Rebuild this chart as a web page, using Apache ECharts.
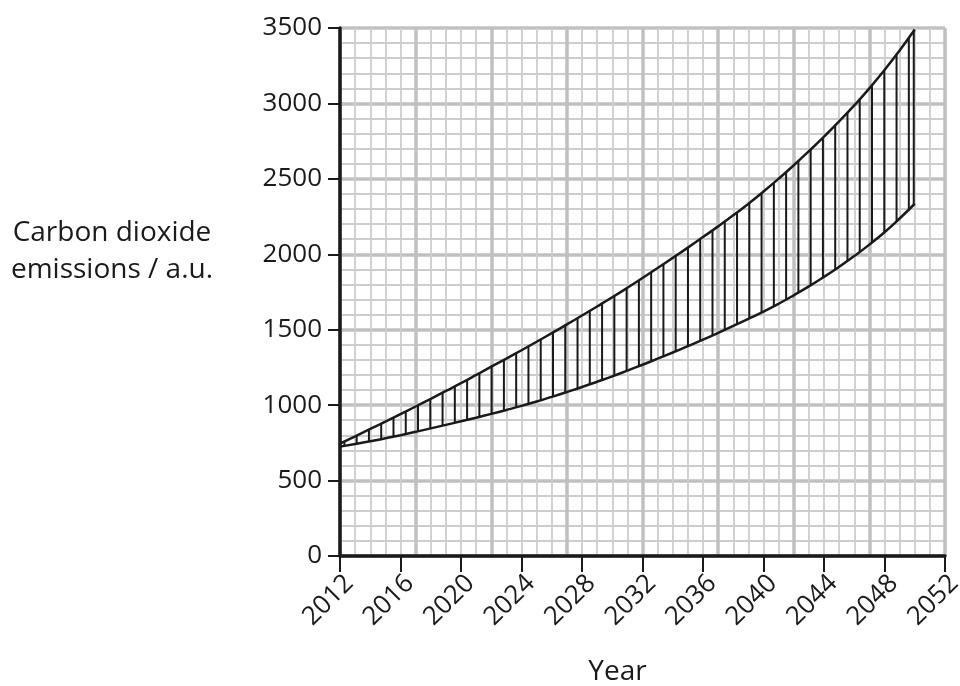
<!DOCTYPE html>
<html>
<head>
<meta charset="utf-8">
<script src="https://cdn.jsdelivr.net/npm/echarts@6/dist/echarts.min.js"></script>
<style>
  html, body { margin: 0; padding: 0; background: #ffffff; }
  #chart { width: 960px; height: 686px; }
</style>
</head>
<body>
<div id="chart"></div>
<script>
// Projected emissions: upper and lower bounds, one value per year
const years = [2012, 2013, 2014, 2015, 2016, 2017, 2018, 2019, 2020, 2021,
               2022, 2023, 2024, 2025, 2026, 2027, 2028, 2029, 2030, 2031,
               2032, 2033, 2034, 2035, 2036, 2037, 2038, 2039, 2040, 2041,
               2042, 2043, 2044, 2045, 2046, 2047, 2048, 2049, 2050];
const upperBound = [745, 793, 842, 891, 941, 991, 1042, 1094, 1146, 1200,
                    1255, 1309, 1364, 1420, 1477, 1535, 1594, 1654, 1715, 1778,
                    1843, 1909, 1976, 2044, 2114, 2185, 2258, 2335, 2416, 2501,
                    2590, 2683, 2780, 2881, 2987, 3100, 3221, 3351, 3490];
const lowerBound = [725, 742, 760, 780, 801, 823, 846, 869, 893, 917,
                    942, 968, 995, 1024, 1055, 1087, 1120, 1155, 1191, 1229,
                    1268, 1308, 1349, 1391, 1434, 1479, 1525, 1572, 1620, 1672,
                    1728, 1787, 1850, 1917, 1988, 2064, 2146, 2237, 2335];

// Axis ranges and tick steps
const xMin = 2012, xMax = 2052, xStep = 4;
const yMin = 0, yMax = 3500, yStep = 500;

const FONT = '"Open Sans", "Noto Sans", sans-serif';
const INK = '#1a1a1a';
const HATCH_GAP = 12.27;    // px between hatch strokes
const HATCH_OFFSET = 4.4;   // px from the plot's left edge to the first stroke

const upperData = years.map((y, i) => [y, upperBound[i]]);
const lowerData = years.map((y, i) => [y, lowerBound[i]]);
// one band segment per pair of consecutive years
const bandSegments = years.slice(0, -1).map((y, i) => [
  y, upperBound[i], lowerBound[i], years[i + 1], upperBound[i + 1], lowerBound[i + 1]
]);

function renderHatch(params, api) {
  const top0 = api.coord([api.value(0), api.value(1)]);
  const bot0 = api.coord([api.value(0), api.value(2)]);
  const top1 = api.coord([api.value(3), api.value(4)]);
  const bot1 = api.coord([api.value(3), api.value(5)]);
  const x0 = top0[0], x1 = top1[0];
  const origin = params.coordSys.x + HATCH_OFFSET;
  const children = [];
  const stroke = (x, t) => ({
    type: 'line',
    shape: {
      x1: x, y1: top0[1] + t * (top1[1] - top0[1]),
      x2: x, y2: bot0[1] + t * (bot1[1] - bot0[1])
    },
    style: { stroke: INK, lineWidth: 2 }
  });
  const kStart = Math.ceil((x0 - origin) / HATCH_GAP);
  for (let k = kStart; origin + k * HATCH_GAP < x1; k++) {
    const x = origin + k * HATCH_GAP;
    children.push(stroke(x, (x - x0) / (x1 - x0)));
  }
  if (params.dataIndex === bandSegments.length - 1) {
    children.push(stroke(x1 - 1, (x1 - 1 - x0) / (x1 - x0)));
  }
  return { type: 'group', children };
}

const chart = echarts.init(document.getElementById('chart'), null, { renderer: 'canvas' });

chart.setOption({
  animation: false,
  backgroundColor: '#ffffff',
  grid: { left: 340, right: 15, top: 28, bottom: 130, containLabel: false, outerBoundsMode: 'none' },
  graphic: [{
    type: 'text',
    x: 112,
    y: 252,
    style: {
      text: 'Carbon dioxide\nemissions / a.u.',
      align: 'center',
      verticalAlign: 'middle',
      fontSize: 28,
      lineHeight: 37,
      fontFamily: FONT,
      fill: INK
    }
  }],
  xAxis: [
    {
      // labelled year axis
      type: 'value', min: xMin, max: xMax, interval: xStep, z: 5,
      axisLine: { show: true, onZero: false, lineStyle: { color: INK, width: 3.5 } },
      axisTick: { show: true, length: 16, lineStyle: { color: INK, width: 2 } },
      axisLabel: { rotate: 45, fontSize: 26, color: INK, fontFamily: FONT, margin: 14,
                   verticalAlign: 'top', formatter: v => String(v) },
      splitLine: { show: false },
      name: 'Year', nameLocation: 'middle', nameGap: 102,
      nameTextStyle: { fontSize: 28, color: INK, fontFamily: FONT, padding: [0, 50, 0, 0] }
    },
    {
      // graph-paper grid: bold every 5 years, fine every year
      type: 'value', min: 0, max: 40, interval: 5, z: 0,
      axisLine: { show: false }, axisTick: { show: false }, axisLabel: { show: false },
      splitLine: { show: true, lineStyle: { color: '#c0c0c0', width: 3.5 } },
      minorTick: { show: false, splitNumber: 5 },
      minorSplitLine: { show: true, lineStyle: { color: '#cdcdcd', width: 1.8 } }
    }
  ],
  yAxis: [
    {
      // graph-paper grid: bold every 500, fine every 100
      type: 'value', position: 'left', min: yMin, max: yMax, interval: yStep, z: 0,
      axisLine: { show: false }, axisTick: { show: false }, axisLabel: { show: false },
      splitLine: { show: true, lineStyle: { color: '#c0c0c0', width: 3.5 } },
      minorTick: { show: false, splitNumber: 5 },
      minorSplitLine: { show: true, lineStyle: { color: '#cdcdcd', width: 1.8 } }
    },
    {
      // labelled emissions axis
      type: 'value', position: 'left', min: yMin, max: yMax, interval: yStep, z: 5,
      axisLine: { show: true, onZero: false, lineStyle: { color: INK, width: 3.5 } },
      axisTick: { show: true, length: 12, lineStyle: { color: INK, width: 2 } },
      axisLabel: { fontSize: 26, color: INK, fontFamily: FONT, margin: 18,
                   formatter: v => String(v) },
      splitLine: { show: false }
    }
  ],
  series: [
    {
      name: 'Range', type: 'custom', data: bandSegments,
      xAxisIndex: 0, yAxisIndex: 0, z: 2,
      encode: { x: [0, 3], y: [1, 2, 4, 5] },
      renderItem: renderHatch
    },
    {
      name: 'Lower bound', type: 'line', data: lowerData,
      xAxisIndex: 0, yAxisIndex: 0, symbol: 'none', smooth: true, z: 3,
      lineStyle: { color: INK, width: 2.5 }
    },
    {
      name: 'Upper bound', type: 'line', data: upperData,
      xAxisIndex: 0, yAxisIndex: 0, symbol: 'none', smooth: true, z: 3,
      lineStyle: { color: INK, width: 2.5 }
    }
  ]
});
</script>
</body>
</html>
